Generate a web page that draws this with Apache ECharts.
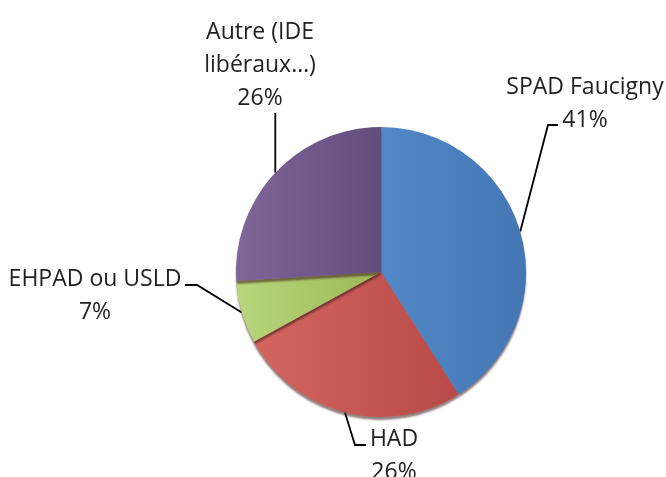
<!DOCTYPE html>
<html>
<head>
<meta charset="utf-8">
<script src="https://cdn.jsdelivr.net/npm/echarts@6/dist/echarts.min.js"></script>
<style>
  html, body { margin: 0; padding: 0; background: #fff; }
  #chart { width: 666px; height: 477px; }
</style>
</head>
<body>
<div id="chart"></div>
<script>
// données du graphique
const categories = ['SPAD Faucigny', 'HAD', 'EHPAD ou USLD', 'Autre (IDE\nlibéraux…)']
const values = [41, 26, 7, 26]

// couleurs (clair -> foncé)
const colors = [
  ['#5288c6', '#4476b4'],
  ['#d2665f', '#b94a47'],
  ['#b8d67b', '#9cba58'],
  ['#7e6699', '#644c7d']
]

// position des étiquettes et des coudes des lignes de rappel
const labelPos = [
  { x: 585, y: 104, elbow: [548, 125], end: [558, 125] },
  { x: 394, y: 456, elbow: [355, 445], end: [366, 445] },
  { x: 95, y: 296, elbow: [197, 285], end: [185, 285] },
  { x: 260, y: 65, elbow: null, end: null }
]

const chart = echarts.init(document.getElementById('chart'))

chart.setOption({
  animation: false,
  series: [{
    type: 'pie',
    center: [381, 272],
    radius: 145,
    startAngle: 90,
    clockwise: true,
    data: categories.map((name, i) => ({
      name,
      value: values[i],
      itemStyle: {
        color: new echarts.graphic.LinearGradient(0, 0, 1, 0, [
          { offset: 0, color: colors[i][0] },
          { offset: 1, color: colors[i][1] }
        ])
      }
    })),
    itemStyle: {
      borderWidth: 0,
      shadowColor: 'rgba(60, 20, 20, 0.55)',
      shadowOffsetY: 3,
      shadowBlur: 2
    },
    label: {
      show: true,
      position: 'outside',
      formatter: p => p.name + '\n' + p.value + '%',
      fontFamily: 'Open Sans',
      fontSize: 23,
      lineHeight: 33,
      color: '#222',
      align: 'center',
      overflow: 'none',
      width: 300
    },
    labelLine: {
      show: true,
      lineStyle: { color: '#000', width: 1.8 }
    },
    labelLayout: params => {
      const lp = labelPos[params.dataIndex]
      const start = params.labelLinePoints ? params.labelLinePoints[0] : [0, 0]
      let pts
      if (lp.elbow) {
        pts = [start, lp.elbow, lp.end]
      } else {
        pts = [start, [start[0], 113], [start[0], 113]]
      }
      return {
        x: lp.x,
        y: lp.y,
        align: 'center',
        verticalAlign: 'middle',
        labelLinePoints: pts
      }
    }
  }]
})
</script>
</body>
</html>
